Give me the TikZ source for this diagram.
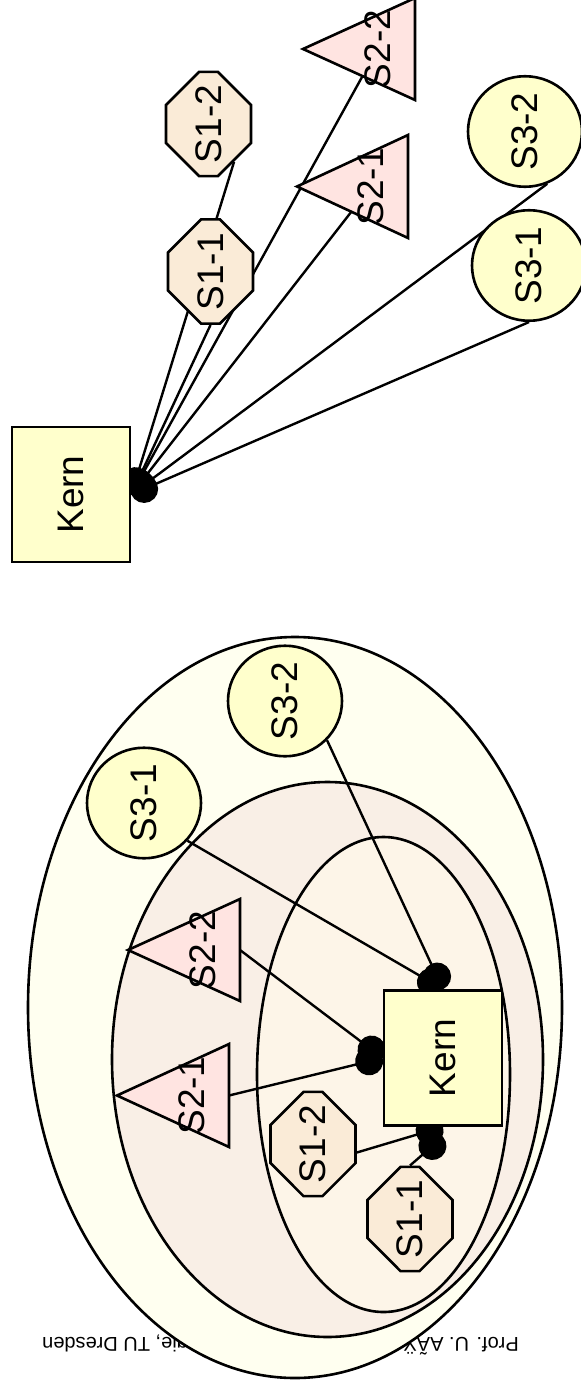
\documentclass[tikz,border=0pt]{standalone}
\usepackage{fontspec}
\setmainfont{Liberation Sans}
\usepackage{graphicx}
\usetikzlibrary{arrows.meta,shapes.geometric,shapes.misc}

\definecolor{kernfill}{HTML}{FFFFCC}
\definecolor{octfill}{HTML}{FAEBD7}
\definecolor{trifill}{HTML}{FFE4E1}
\definecolor{outerfill}{HTML}{FFFFF0}
\definecolor{midfill}{HTML}{F9EFE6}
\definecolor{innerfill}{HTML}{FDF5E8}

\pgfdeclarelayer{zones}
\pgfdeclarelayer{links}
\pgfsetlayers{zones,links,main}

\newcommand{\vtext}[1]{\rotatebox{90}{#1}}

\begin{document}
\begin{tikzpicture}[
  x=0.5pt, y=-0.5pt,
  every node/.style={font=\fontsize{18.5}{22}\selectfont},
  kern/.style={draw, line width=1.3pt, fill=kernfill, minimum width=59pt, minimum height=67.5pt, inner sep=0pt},
  oct/.style={draw, line width=1.3pt, fill=octfill, chamfered rectangle, chamfered rectangle sep=10pt, minimum width=42.5pt, minimum height=51.5pt, inner sep=0pt},
  oval/.style={draw, line width=1.3pt, fill=kernfill, ellipse, minimum width=57pt, minimum height=51pt, inner sep=0pt},
  tri/.style={draw, line width=1.3pt, fill=trifill, line join=miter},
  lbl/.style={inner sep=0pt},
  zone/.style={draw, line width=1.3pt},
  link/.style={line width=1.2pt, -{Circle[length=14pt]}}]
\useasboundingbox (0,0) rectangle (580,1386);

% fan: one core, everything hung straight on it
\node[kern] (kern1) at (71,494.5) {\vtext{Kern}};
\node[oct] (s12a) at (208.5,124) {\vtext{S1-2}};
\node[oct] (s11a) at (210.5,271.5) {\vtext{S1-1}};
\draw[tri] (303,49) -- ++(112,-51) -- ++(0,102) -- cycle;
\node[lbl] (s22a) at (377.5,49) {\vtext{S2-2}};
\draw[tri] (297,186.5) -- ++(111,-51.5) -- ++(0,103) -- cycle;
\node[lbl] (s21a) at (371,186.5) {\vtext{S2-1}};
\node[oval] (s32a) at (525,131.5) {\vtext{S3-2}};
\node[oval] (s31a) at (529,265.5) {\vtext{S3-1}};

% shells: the same parts nested round the core
\node[kern] (kern2) at (443,1058) {\vtext{Kern}};
\node[oct] (s12b) at (313,1144) {\vtext{S1-2}};
\node[oct] (s11b) at (410,1219) {\vtext{S1-1}};
\draw[tri] (128,950) -- ++(112,-51) -- ++(0,102) -- cycle;
\coordinate (s22foot) at (240,950);
\node[lbl] (s22b) at (202.5,950) {\vtext{S2-2}};
\draw[tri] (117,1095.5) -- ++(112,-51.5) -- ++(0,103) -- cycle;
\coordinate (s21foot) at (229,1095.5);
\node[lbl] (s21b) at (191.5,1095.5) {\vtext{S2-1}};
\node[oval] (s31b) at (144,803) {\vtext{S3-1}};
\node[oval] (s32b) at (285,701) {\vtext{S3-2}};

\begin{pgfonlayer}{zones}
\node[font=\fontsize{10}{12}\selectfont, rotate=180, anchor=base] (foot) at (280.5,1337)
  {Prof. U. AÃŸmann, Softwaretechnologie, TU Dresden};
\draw[zone, fill=outerfill] (295,1007.5) ellipse [x radius=267, y radius=370.5];
\draw[zone, fill=midfill] (327.5,1059.5) ellipse [x radius=215.5, y radius=277.5];
\draw[zone, fill=innerfill] (383.5,1074.5) ellipse [x radius=126.5, y radius=237.5];
\end{pgfonlayer}

\begin{pgfonlayer}{links}
\draw[link] (s11a.south) -- (kern1.east);
\draw[link] (s12a.-56) -- (kern1.east);
\draw[link] (s22a.center) -- (kern1.east);
\draw[link] (s21a.center) -- (kern1.east);
\draw[link] (s32a.-67) -- (kern1.east);
\draw[link] (s31a.south) -- (kern1.east);
\draw[link] (s11b.north) -- ([yshift=-5pt]kern2.south);
\draw[link] (s12b.-11) -- (kern2.south);
\draw[link] (s22foot) -- (kern2.west);
\draw[link] (s21foot) -- (kern2.west);
\draw[link] (s31b.-41) -- (kern2.north);
\draw[link] (s32b.-43) -- (kern2.north);
\end{pgfonlayer}
\end{tikzpicture}
\end{document}
